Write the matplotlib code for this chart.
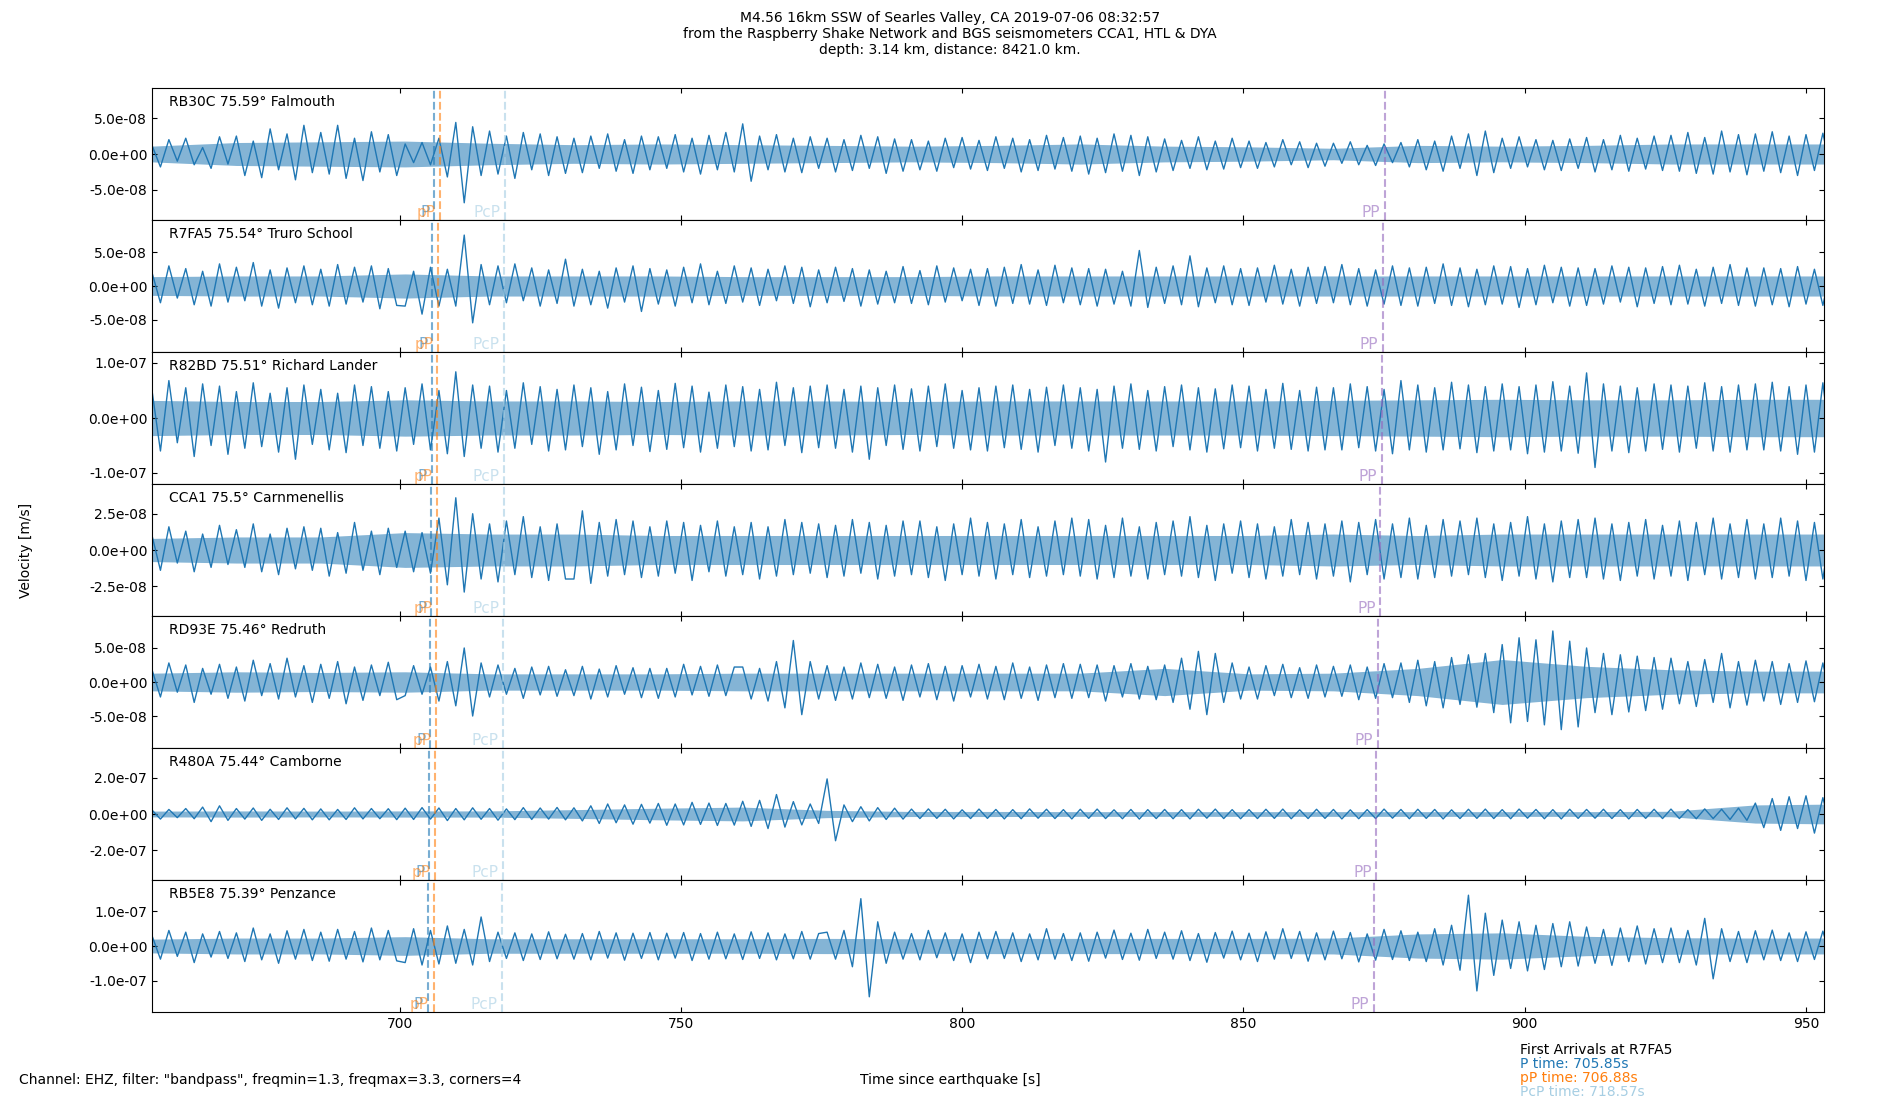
import matplotlib
matplotlib.use('Agg')
import matplotlib.pyplot as plt
import numpy as np
from matplotlib.ticker import FormatStrFormatter

# station labels (name, distance, place)
stations = ['RB30C 75.59° Falmouth', 'R7FA5 75.54° Truro School', 'R82BD 75.51° Richard Lander',
            'CCA1 75.5° Carnmenellis', 'RD93E 75.46° Redruth', 'R480A 75.44° Camborne',
            'RB5E8 75.39° Penzance']

# first sample time and sample step of the traced peaks [s]
t_start = 656.0
t_step = 1.5
# the dense core of each trace is read every 15 s
band_step = 15.0

# peak velocities, in nm/s
rb30c = [12, -18, 20, -10, 22, -15, 9, -20, 24, -14,
         25, -30, 18, -33, 35, -22, 28, -36, 40, -26,
         30, -28, 40, -34, 22, -37, 31, -25, 27, -30,
         14, -12, 16, -15, 22, -32, 44, -68, 38, -30,
         32, -28, 25, -34, 30, -22, 28, -30, 24, -27,
         22, -26, 25, -20, 28, -24, 20, -27, 25, -22,
         24, -20, 27, -25, 22, -28, 26, -22, 30, -25,
         42, -38, 25, -22, 27, -25, 22, -26, 24, -20,
         22, -25, 20, -23, 26, -20, 24, -27, 21, -24,
         20, -22, 18, -24, 22, -19, 23, -21, 19, -23,
         24, -20, 22, -25, 20, -23, 26, -21, 23, -24,
         25, -28, 22, -26, 28, -24, 26, -30, 24, -25,
         21, -23, 19, -20, 24, -22, 18, -21, 22, -19,
         18, -20, 16, -18, 20, -15, 17, -19, 15, -17,
         15, -13, 17, -15, 12, -16, 14, -12, 16, -18,
         20, -22, 18, -24, 25, -20, 28, -30, 32, -26,
         22, -20, 24, -18, 20, -22, 19, -23, 21, -20,
         23, -25, 20, -22, 26, -24, 22, -21, 25, -23,
         26, -24, 30, -27, 23, -28, 32, -25, 27, -29,
         28, -24, 31, -26, 25, -30, 27, -23, 29, -25]
r7fa5 = [20, -25, 30, -18, 26, -28, 22, -30, 33, -24,
         28, -22, 35, -30, 24, -33, 27, -25, 30, -28,
         25, -30, 32, -27, 28, -24, 30, -34, 26, -29,
         -30, 22, -42, 28, -30, 25, -30, 76, -55, 32,
         -28, 30, -25, 33, -22, 27, -30, 24, -26, 40,
         -30, 25, -28, 22, -33, 27, -24, 30, -38, 26,
         -27, 24, -30, 28, -25, 33, -28, 22, -26, 30,
         -24, 27, -29, 25, -22, 30, -26, 28, -31, 24,
         -25, 28, -23, 26, -30, 24, -27, 22, -25, 29,
         -26, 23, -28, 30, -24, 27, -22, 25, -29, 26,
         -30, 28, -26, 32, -27, 24, -29, 31, -25, 27,
         -28, 26, -30, 25, -27, 22, -30, 53, -32, 28,
         -26, 30, -28, 45, -31, 27, -25, 30, -28, 26,
         -29, 27, -24, 31, -27, 25, -30, 28, -26, 29,
         -25, 32, -28, 26, -30, 24, -27, 30, -29, 27,
         -30, 28, -26, 33, -29, 27, -31, 25, -28, 30,
         -27, 29, -32, 26, -28, 31, -25, 28, -30, 27,
         -29, 26, -27, 30, -24, 28, -31, 27, -26, 29,
         -28, 31, -27, 25, -30, 28, -26, 32, -29, 27,
         -30, 27, -28, 26, -31, 29, -27, 25, -29, 28]
r82bd = [50, -60, 68, -45, 55, -70, 62, -50, 58, -66,
         48, -55, 64, -52, 45, -62, 55, -75, 60, -48,
         52, -58, 45, -63, 60, -50, 57, -55, 48, -60,
         55, -48, 62, -58, 50, -65, 84, -70, 60, -55,
         58, -62, 50, -55, 64, -48, 57, -60, 52, -58,
         60, -52, 55, -66, 48, -58, 62, -50, 56, -61,
         50, -57, 63, -54, 58, -62, 47, -55, 60, -52,
         57, -60, 52, -58, 65, -50, 55, -63, 58, -54,
         60, -55, 52, -62, 58, -75, 55, -50, 60, -57,
         53, -60, 58, -52, 62, -55, 50, -58, 55, -60,
         58, -54, 60, -57, 52, -62, 56, -50, 60, -55,
         55, -60, 52, -80, 58, -55, 62, -57, 50, -60,
         57, -52, 60, -58, 55, -62, 53, -56, 60, -54,
         58, -60, 52, -55, 63, -57, 50, -60, 56, -58,
         55, -58, 62, -54, 57, -60, 52, -65, 68, -58,
         60, -62, 55, -58, 65, -56, 60, -63, 57, -60,
         62, -58, 57, -65, 60, -62, 66, -60, 58, -64,
         82, -90, 62, -60, 58, -63, 55, -60, 62, -57,
         60, -62, 58, -55, 64, -60, 57, -62, 60, -58,
         62, -58, 65, -60, 57, -66, 60, -62, 64, -60]
cca1 = [10, -14, 16, -9, 13, -15, 11, -12, 17, -10,
        14, -12, 18, -15, 11, -17, 15, -13, 16, -14,
        15, -18, 12, -16, 19, -14, 13, -17, 15, -12,
        13, -15, 12, -16, 22, -24, 36, -29, 25, -20,
        18, -22, 20, -17, 23, -19, 16, -21, 18, -20,
        -20, 27, -23, 19, -18, 21, -17, 20, -19, 16,
        -18, 20, -16, 19, -21, 17, -15, 20, -18, 16,
        -17, 19, -20, 16, -18, 21, -17, 19, -16, 18,
        -19, 17, -18, 21, -16, 19, -20, 17, -18, 20,
        -17, 20, -19, 16, -21, 18, -17, 22, -18, 19,
        -20, 18, -17, 21, -19, 16, -18, 20, -17, 22,
        -18, 21, -20, 17, -19, 22, -18, 16, -20, 19,
        -17, 20, -18, 23, -19, 17, -21, 18, -16, 20,
        -19, 18, -20, 16, -18, 21, -17, 19, -20, 18,
        -18, 20, -22, 19, -17, 21, -20, 18, -19, 22,
        -20, 17, -19, 21, -18, 20, -17, 22, -19, 18,
        -21, 19, -18, 23, -20, 18, -22, 20, -19, 21,
        -19, 22, -20, 18, -21, 19, -18, 21, -20, 17,
        -18, 20, -21, 19, -17, 22, -20, 18, -19, 21,
        -20, 18, -19, 22, -18, 20, -21, 19, -20, 18]
rd93e = [18, -22, 28, -15, 25, -30, 20, -18, 26, -24,
         22, -28, 32, -20, 27, -25, 35, -22, 24, -30,
         26, -24, 30, -32, 22, -27, 25, -20, 29, -26,
         -20, 24, -18, 22, -28, 30, -35, 50, -50, 28,
         -22, 25, -18, 20, -24, 22, -19, 23, -21, 18,
         -20, 23, -25, 19, -22, 24, -18, 21, -23, 20,
         -24, 20, -22, 26, -19, 23, -21, 25, -20, 22,
         22, -25, 20, -28, 30, -38, 61, -48, 30, -25,
         24, -27, 22, -25, 28, -23, 26, -24, 22, -27,
         25, -22, 27, -26, 23, -28, 24, -22, 26, -25,
         23, -26, 28, -24, 22, -27, 25, -23, 27, -24,
         26, -23, 25, -28, 24, -22, 27, -25, 23, -26,
         25, -30, 35, -40, 45, -48, 42, -30, 28, -25,
         22, -25, 24, -20, 26, -23, 21, -24, 25, -22,
         23, -21, 25, -26, 22, -24, 27, -23, 28, -30,
         32, -35, 30, -38, 36, -33, 40, -37, 42, -45,
         55, -60, 65, -58, 62, -63, 75, -70, 60, -66,
         50, -45, 42, -48, 40, -44, 38, -42, 36, -40,
         35, -32, 30, -36, 33, -30, 42, -38, 30, -34,
         32, -28, 30, -33, 27, -30, 31, -29, 28, -32]
r480a = [22, -28, 25, -20, 30, -26, 38, -42, 45, -35,
         30, -28, 33, -35, 26, -30, 34, -27, 31, -32,
         28, -32, 25, -30, 34, -27, 30, -26, 29, -31,
         32, -30, 35, -28, 33, -36, 30, -32, 34, -29,
         30, -34, 28, -31, 35, -30, 33, -28, 36, -32,
         34, -38, 45, -52, 55, -48, 50, -56, 53, -50,
         58, -62, 55, -60, 64, -57, 60, -63, 58, -61,
         70, -68, 75, -80, 107, -72, 68, -60, 55, -52,
         193, -147, 50, -42, 40, -38, 35, -30, 32, -28,
         27, -25, 28, -24, 26, -27, 23, -25, 27, -24,
         25, -27, 24, -26, 28, -23, 26, -25, 24, -27,
         26, -24, 27, -25, 23, -26, 25, -28, 24, -25,
         25, -26, 24, -27, 26, -23, 27, -25, 24, -26,
         24, -25, 26, -24, 27, -26, 23, -25, 26, -24,
         25, -27, 23, -26, 24, -25, 27, -23, 25, -26,
         26, -24, 25, -27, 23, -25, 26, -24, 27, -25,
         24, -26, 27, -23, 25, -26, 24, -27, 26, -24,
         25, -23, 26, -25, 24, -27, 25, -24, 26, -25,
         27, -25, 24, -26, 28, -25, 26, -30, 32, -35,
         60, -75, 85, -90, 95, -80, 100, -105, 90, -95]
rb5e8 = [30, -38, 45, -30, 40, -48, 35, -32, 42, -36,
         38, -45, 52, -40, 35, -50, 44, -38, 48, -42,
         40, -44, 48, -38, 42, -46, 52, -40, 45, -43,
         -48, 50, -55, 45, -52, 58, -50, 48, -55, 84,
         -45, 40, -36, 38, -42, 35, -39, 41, -37, 34,
         -38, 36, -40, 42, -35, 38, -41, 37, -36, 39,
         -40, 37, -35, 39, -42, 36, -38, 40, -37, 35,
         -39, 41, -36, 38, -40, 35, -37, 42, -38, 36,
         40, -38, 45, -60, 137, -147, 70, -50, 40, -38,
         36, -40, 45, -34, 38, -42, 35, -48, 40, -37,
         42, -36, 38, -45, 35, -40, 50, -38, 36, -42,
         38, -44, 40, -35, 46, -39, 37, -41, 48, -36,
         40, -38, 44, -42, 36, -47, 39, -35, 43, -40,
         37, -45, 41, -38, 50, -36, 42, -44, 38, -40,
         43, -37, 39, -46, 35, -41, 48, -39, 44, -42,
         40, -45, 50, -55, 60, -70, 147, -130, 95, -85,
         75, -65, 70, -72, 60, -68, 65, -60, 70, -58,
         55, -50, 48, -56, 52, -45, 58, -52, 50, -48,
         52, -48, 45, -55, 80, -95, 50, -45, 42, -48,
         44, -40, 46, -42, 38, -45, 41, -39, 43, -40]
traces = [rb30c, r7fa5, r82bd, cca1, rd93e, r480a, rb5e8]

# half width of the dense core of each trace, every 15 s from 656 s, in nm/s
rb30c_core = [11, 16, 17, 18, 15, 13, 14, 13, 12, 11, 12, 14, 11, 10, 8, 12, 11, 12, 14, 14, 14]
r7fa5_core = [14, 15, 15, 18, 15, 15, 15, 14, 14, 14, 15, 15, 15, 15, 15, 15, 15, 15, 15, 15, 15]
r82bd_core = [32, 30, 30, 33, 31, 31, 30, 31, 31, 30, 31, 31, 31, 31, 32, 33, 34, 33, 33, 34, 34]
cca1_core = [8, 9, 9, 12, 11, 11, 10, 10, 10, 10, 10, 10, 10, 10, 11, 10, 11, 11, 11, 11, 11]
rd93e_core = [13, 15, 14, 15, 12, 12, 12, 13, 13, 13, 13, 13, 20, 12, 13, 20, 33, 23, 18, 16, 16]
r480a_core = [16, 17, 16, 17, 17, 24, 32, 38, 20, 14, 14, 13, 13, 13, 13, 13, 13, 13, 15, 50, 55]
rb5e8_core = [20, 23, 23, 27, 21, 21, 21, 21, 22, 21, 22, 22, 22, 22, 23, 35, 38, 28, 24, 23, 23]
cores = [rb30c_core, r7fa5_core, r82bd_core, cca1_core, rd93e_core, r480a_core, rb5e8_core]

# y limits and ticks per panel [m/s]
ylims = [9.2e-8, 9.85e-8, 1.2e-7, 4.55e-8, 9.7e-8, 3.63e-7, 1.91e-7]
ystep = [5e-8, 5e-8, 1e-7, 2.5e-8, 5e-8, 2e-7, 1e-7]

# arrival times per station [s]
phases = ['P', 'pP', 'PcP', 'PP']
phase_times = {
    'P':   [706.15, 705.85, 705.7, 705.65, 705.4, 705.3, 705.0],
    'pP':  [707.2, 706.88, 706.7, 706.65, 706.45, 706.3, 706.05],
    'PcP': [718.7, 718.57, 718.5, 718.5, 718.45, 718.4, 718.3],
    'PP':  [875.1, 874.8, 874.6, 874.3, 873.9, 873.6, 873.2],
}
phase_colors = {'P': '#1f77b4', 'pP': '#ff7f0e', 'PcP': '#a6cee3', 'PP': '#9467bd'}

xlim = (656.0, 953.2)

fig, axes = plt.subplots(len(traces), 1, sharex=True, figsize=(19, 11), dpi=100)
fig.subplots_adjust(left=0.08, right=0.96, top=0.92, bottom=0.08, hspace=0)

for i, ax in enumerate(axes):
    vals = np.array(traces[i]) * 1e-9
    t = t_start + t_step * np.arange(len(vals))
    core = np.array(cores[i]) * 1e-9
    tc = t_start + band_step * np.arange(len(core))
    ax.fill_between(tc, -core, core, color='#1f77b4', lw=0, alpha=0.55)
    ax.plot(t, vals, color='#1f77b4', lw=1)
    ax.set_ylim(-ylims[i], ylims[i])
    ax.set_yticks([-ystep[i], 0, ystep[i]])
    ax.yaxis.set_major_formatter(FormatStrFormatter('%.1e'))
    ax.set_xlim(*xlim)
    ax.tick_params(direction='in', top=True, right=True, labelsize=10)
    ax.text(0.01, 0.95, stations[i], transform=ax.transAxes, va='top', ha='left', fontsize=10)
    for ph in phases:
        tp = phase_times[ph][i]
        ax.axvline(tp, color=phase_colors[ph], ls='--', lw=1.5, alpha=0.6)
        ax.text(tp - 0.8, -ylims[i], ph, color=phase_colors[ph], alpha=0.6,
                ha='right', va='bottom', fontsize=11)

axes[-1].set_xticks([700, 750, 800, 850, 900, 950])

fig.suptitle('M4.56 16km SSW of Searles Valley, CA 2019-07-06 08:32:57\n'
             'from the Raspberry Shake Network and BGS seismometers CCA1, HTL & DYA\n'
             'depth: 3.14 km, distance: 8421.0 km.', y=0.99, fontsize=10, va='top')
fig.text(0.01, 0.5, 'Velocity [m/s]', rotation=90, va='center', ha='left', fontsize=10)
fig.text(0.5, 0.018, 'Time since earthquake [s]', ha='center', va='center', fontsize=10)
fig.text(0.01, 0.018, 'Channel: EHZ, filter: "bandpass", freqmin=1.3, freqmax=3.3, corners=4',
         ha='left', va='center', fontsize=10)

fig.text(0.8, 0.0455, 'First Arrivals at R7FA5', ha='left', va='center', fontsize=10)
fig.text(0.8, 0.0327, 'P time: 705.85s', color=phase_colors['P'], ha='left', va='center', fontsize=10)
fig.text(0.8, 0.02, 'pP time: 706.88s', color=phase_colors['pP'], ha='left', va='center', fontsize=10)
fig.text(0.8, 0.0073, 'PcP time: 718.57s', color=phase_colors['PcP'], ha='left', va='center', fontsize=10)

fig.savefig('out.png', dpi=100)
